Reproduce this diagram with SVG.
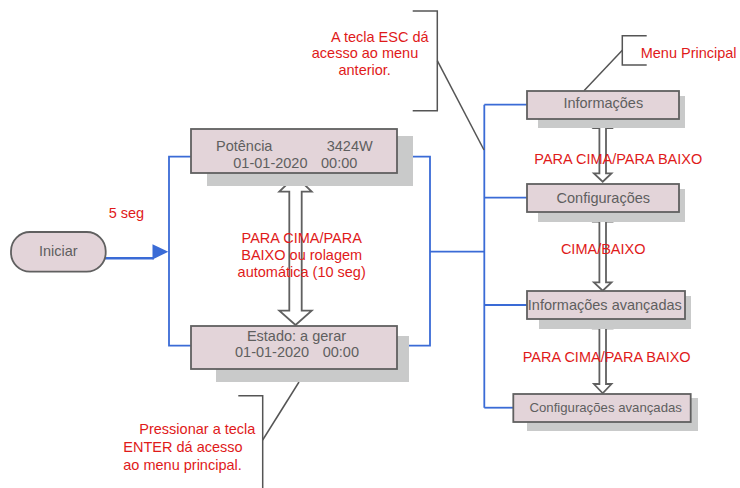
<svg xmlns="http://www.w3.org/2000/svg" width="740" height="488" viewBox="0 0 740 488">
<defs>
<style>
.bg{fill:#ffffff}
.shadow{fill:#c9caca}
.box{fill:#e3d4d9;stroke:#606060;stroke-width:1.8}
.t{font-family:"Liberation Sans",Arial,sans-serif;font-size:14.5px;fill:#5f5f5f}
.r{font-family:"Liberation Sans",Arial,sans-serif;font-size:14.5px;fill:#e01a1a}
.blue{fill:none;stroke:#3a6bd6;stroke-width:1.8}
.note{fill:none;stroke:#555555;stroke-width:1.5}
.darr{fill:#ffffff;stroke:#606060;stroke-width:1.8;stroke-linejoin:miter}
</style>
</defs>
<rect class="bg" x="0" y="0" width="740" height="488"/>

<g id="connectors">
<!-- Iniciar to loop -->
<path d="M105,258.3 H154" fill="none" stroke="#3a6bd6" stroke-width="2.5"/>
<polygon points="152.5,244.3 168.3,251.7 152.5,259.5" fill="#3a6bd6"/>
<!-- left loop -->
<path class="blue" d="M191,156.7 H169 V345.7 H191"/>
<!-- right loop -->
<path class="blue" d="M397,156.7 H430 V345.7 H409"/>
<path class="blue" d="M430,251.7 H484.3"/>
<!-- menu bus -->
<path class="blue" d="M484.3,104.7 V407.7"/>
<path class="blue" d="M484.3,104.7 H527"/>
<path class="blue" d="M484.3,197.7 H527"/>
<path class="blue" d="M484.3,305 H527"/>
<path class="blue" d="M484.3,407.7 H513.3"/>
<!-- double arrows -->
<polygon class="darr" points="295.5,176 311.7,191.7 301.7,191.7 301.7,310.7 311.7,310.7 295.5,325 279.3,310.7 289.3,310.7 289.3,191.7 279.3,191.7"/>
<polygon class="darr" points="602.7,120 611.5,128 606,128 606,173.3 611.5,173.3 602.7,181.7 593.9,173.3 599.4,173.3 599.4,128 593.9,128"/>
<polygon class="darr" points="602.7,213.3 611.5,221.7 606,221.7 606,282.3 611.5,282.3 602.7,290.7 593.9,282.3 599.4,282.3 599.4,221.7 593.9,221.7"/>
<polygon class="darr" points="602.7,319.5 611.5,328.3 606,328.3 606,384 611.5,384 602.7,393.3 593.9,384 599.4,384 599.4,328.3 593.9,328.3"/>
<!-- annotation brackets -->
<path class="note" d="M412.7,11 H437.3 V110.7 H412.7"/>
<path class="note" d="M437.3,60.7 L484,150"/>
<path class="note" d="M646.7,35.7 H622.3 V65 H646.7"/>
<path class="note" d="M622.3,50.3 L584,90.7"/>
<path class="note" d="M238.3,395.7 H262.7 V488"/>
<path class="note" d="M262.7,440 L299,382"/>
</g>

<g id="node-iniciar">
<rect class="box" x="11" y="232" width="94.7" height="39.7" rx="19" ry="19"/>
<text class="t" x="58.3" y="256" text-anchor="middle">Iniciar</text>
</g>

<g id="node-potencia">
<rect class="shadow" x="207" y="136" width="206" height="50"/>
<rect class="box" x="191" y="129" width="206" height="44"/>
<text class="t" x="216" y="150.7">Potência</text>
<text class="t" x="372.7" y="150.7" text-anchor="end">3424W</text>
<text class="t" x="233.3" y="167.7">01-01-2020</text>
<text class="t" x="321" y="167.7">00:00</text>
</g>

<g id="node-estado">
<rect class="shadow" x="216" y="336" width="193" height="46"/>
<rect class="box" x="191" y="326" width="206" height="43"/>
<text class="t" x="296.5" y="341" text-anchor="middle">Estado: a gerar</text>
<text class="t" x="235" y="357">01-01-2020</text>
<text class="t" x="322.7" y="357">00:00</text>
</g>

<g id="node-informacoes">
<rect class="shadow" x="538" y="96" width="147" height="32"/>
<rect class="box" x="527" y="91" width="152" height="28"/>
<text class="t" x="603.3" y="108.3" text-anchor="middle">Informações</text>
</g>

<g id="node-configuracoes">
<rect class="shadow" x="538" y="189" width="147" height="33"/>
<rect class="box" x="527" y="184" width="152" height="28"/>
<text class="t" x="603.3" y="203.3" text-anchor="middle">Configurações</text>
</g>

<g id="node-info-avancadas">
<rect class="shadow" x="539" y="296" width="152" height="33"/>
<rect class="box" x="527" y="291" width="158" height="28"/>
<text class="t" x="604.8" y="310" text-anchor="middle">Informações avançadas</text>
</g>

<g id="node-config-avancadas">
<rect class="shadow" x="527" y="398" width="171" height="33"/>
<rect class="box" x="513.3" y="394" width="177.4" height="28"/>
<text class="t" x="605.7" y="411.7" text-anchor="middle" style="font-size:13.2px">Configurações avançadas</text>
</g>

<g id="labels">
<text class="r" x="108.7" y="217.7">5 seg</text>
<text class="r" x="301.7" y="242.7" text-anchor="middle">PARA CIMA/PARA</text>
<text class="r" x="301.7" y="259.7" text-anchor="middle">BAIXO ou rolagem</text>
<text class="r" x="301.7" y="276.7" text-anchor="middle">automática (10 seg)</text>
<text class="r" x="618.3" y="164.3" text-anchor="middle">PARA CIMA/PARA BAIXO</text>
<text class="r" x="603.2" y="254" text-anchor="middle">CIMA/BAIXO</text>
<text class="r" x="606.7" y="362.3" text-anchor="middle">PARA CIMA/PARA BAIXO</text>
<text class="r" x="640.7" y="58.3">Menu Principal</text>
<text class="r" x="331" y="41.7">A tecla ESC dá</text>
<text class="r" x="365" y="57.7" text-anchor="middle">acesso ao menu</text>
<text class="r" x="364.7" y="75" text-anchor="middle">anterior.</text>
<text class="r" x="139.3" y="434.3">Pressionar a tecla</text>
<text class="r" x="123.3" y="452.3">ENTER dá acesso</text>
<text class="r" x="123.3" y="470">ao menu principal.</text>
</g>
</svg>
